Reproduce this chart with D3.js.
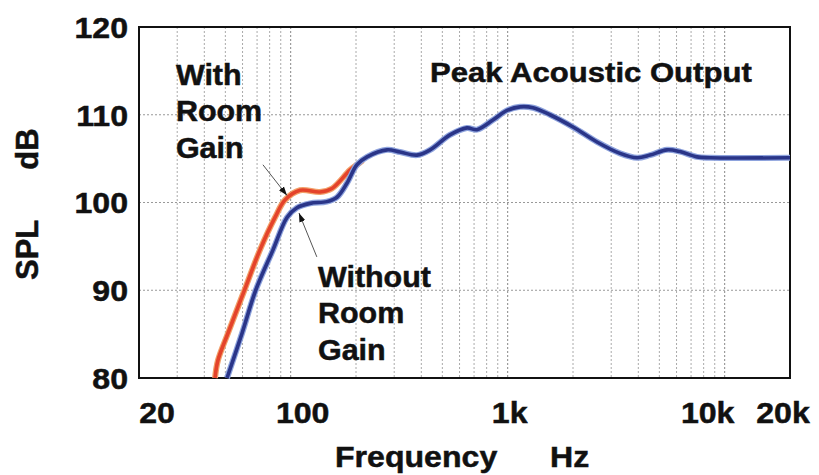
<!DOCTYPE html>
<html>
<head>
<meta charset="utf-8">
<script src="https://cdn.jsdelivr.net/npm/d3@7"></script>
<style>
	body { margin: 0; background: #fff; }
	text { font-family: "Liberation Sans", Arial, Helvetica, sans-serif; font-weight: bold; fill: #111; stroke: #111; stroke-width: 0.5px; }
</style>
</head>
<body>
<div class="canvas"></div>
<script>
// tick values and labels
const freqTicks = [20, 100, 1000, 10000, 20000];
const freqTickLabels = ['20', '100', '1k', '10k', '20k'];
const splTicks = [80, 90, 100, 110, 120];

// with room gain (red) - frequency in Hz, level in dB
const withFreq = [44.8, 46.2, 51.4, 61, 72.2, 84.7, 94.2, 110.4, 136.5, 155, 187.6, 202, 215];
const withSpl  = [80, 82.0, 85.1, 89.9, 94.6, 98.3, 100.3, 101.4, 101.2, 101.6, 103.7, 104.3, 104.8];

// without room gain (blue)
const withoutFreq = [50.9, 59.7, 69, 82.9, 96.2, 106.9, 122.8, 146.9, 163.4, 181.7, 202, 225, 278, 319, 382, 439,
	542, 649, 722, 855, 993, 1140, 1308, 1566, 2000, 2580, 3294, 3945, 4528, 5420, 6222, 7452, 8560, 20000];
const withoutSpl  = [80, 85.1, 90.0, 94.6, 98.3, 99.4, 99.9, 100.1, 100.6, 102.2, 104.3, 105.2, 106.0, 105.75, 105.4, 106.0,
	107.7, 108.5, 108.3, 109.4, 110.5, 110.9, 110.8, 110.0, 108.6, 106.9, 105.6, 105.1, 105.4, 106.0, 105.8, 105.2, 105.1, 105.1];

const dims = { width: 819, height: 475, left: 139, right: 790, top: 27, bottom: 378 };

const svg = d3.select('.canvas').append('svg')
	.attr('width', dims.width)
	.attr('height', dims.height);

const x = d3.scaleLog().domain([20, 20000]).range([dims.left, dims.right]);
const y = d3.scaleLinear().domain([80, 120]).range([dims.bottom, dims.top]);

// text helper, the original lettering is a bit wide
const label = (px, py, str, size, anchor = 'start', sx = 1.07) => svg.append('text')
	.attr('transform', `translate(${px},${py}) scale(${sx},1)`)
	.attr('text-anchor', anchor)
	.style('font-size', size + 'px')
	.text(str);

// grid
const gridFreqs = x.ticks().filter(f => f > 20 && f <= 10000);
svg.append('g').selectAll('line')
	.data(gridFreqs).enter().append('line')
	.attr('x1', d => x(d)).attr('x2', d => x(d))
	.attr('y1', dims.top).attr('y2', dims.bottom)
	.attr('stroke', d => [100, 1000, 10000].includes(d) ? '#888' : '#aaa')
	.attr('stroke-width', 1)
	.attr('stroke-dasharray', '2,2');

svg.append('g').selectAll('line')
	.data(splTicks.filter(v => v > 80 && v < 120)).enter().append('line')
	.attr('x1', dims.left).attr('x2', dims.right)
	.attr('y1', d => y(d)).attr('y2', d => y(d))
	.attr('stroke', '#999')
	.attr('stroke-width', 1)
	.attr('stroke-dasharray', '2,2');

// frame
svg.append('rect')
	.attr('x', dims.left).attr('y', dims.top)
	.attr('width', dims.right - dims.left).attr('height', dims.bottom - dims.top)
	.attr('fill', 'none').attr('stroke', '#111').attr('stroke-width', 2);

// curves
const line = d3.line()
	.x(d => x(d[0]))
	.y(d => y(d[1]))
	.curve(d3.curveCatmullRom.alpha(0.5));

const withData = withFreq.map((f, i) => [f, withSpl[i]]);
const withoutData = withoutFreq.map((f, i) => [f, withoutSpl[i]]);

const drawCurve = (data, halo, core) => {
	svg.append('path').attr('d', line(data))
		.attr('fill', 'none').attr('stroke', halo).attr('stroke-width', 6)
		.attr('stroke-linejoin', 'round');
	svg.append('path').attr('d', line(data))
		.attr('fill', 'none').attr('stroke', core).attr('stroke-width', 3.6)
		.attr('stroke-linejoin', 'round');
};

drawCurve(withData, '#f2a06a', '#e4432b');
drawCurve(withoutData, '#8ea3dd', '#2a3588');

// arrows
svg.append('defs').append('marker')
	.attr('id', 'head')
	.attr('viewBox', '0 0 10 10')
	.attr('refX', 10).attr('refY', 5)
	.attr('markerWidth', 9).attr('markerHeight', 9)
	.attr('markerUnits', 'userSpaceOnUse')
	.attr('orient', 'auto')
	.append('path').attr('d', 'M0,1.5L10,5L0,8.5Z').attr('fill', '#111');

const arrows = [
	{ from: [74.5, 104.3], to: [96.2, 100.8] },
	{ from: [132, 93.8], to: [109.2, 98.8] }
];

svg.append('g').selectAll('line')
	.data(arrows).enter().append('line')
	.attr('x1', d => x(d.from[0])).attr('y1', d => y(d.from[1]))
	.attr('x2', d => x(d.to[0])).attr('y2', d => y(d.to[1]))
	.attr('stroke', '#555').attr('stroke-width', 1)
	.attr('marker-end', 'url(#head)');

// y tick labels
splTicks.forEach(v => {
	label(128, y(v), v, 30, 'end').attr('dy', '0.36em');
});

// x tick labels, nudged like the original lettering
const tickNudge = { 20: 18, 100: 12, 1000: 2, 10000: -17, 20000: -7 };
freqTicks.forEach((f, i) => {
	label(x(f) + tickNudge[f], 423, freqTickLabels[i], 30, 'middle');
});

// axis titles
label(335, 467, 'Frequency', 30);
label(550, 467, 'Hz', 30);

svg.append('text')
	.attr('transform', 'translate(38,280) rotate(-90)')
	.style('font-size', '31px')
	.text('SPL')
	.append('tspan').attr('dx', 50).text('dB');

// annotations
const annoLines = (f, db, lines) => lines.forEach((t, i) => {
	label(x(f), y(db) + i * 36.5, t, 29, 'start', 1.05);
});

annoLines(29.6, 113.4, ['With', 'Room', 'Gain']);
annoLines(133.6, 90.4, ['Without', 'Room', 'Gain']);
label(x(438.6), y(113.7), 'Peak Acoustic Output', 28, 'start', 1.11);
</script>
</body>
</html>
